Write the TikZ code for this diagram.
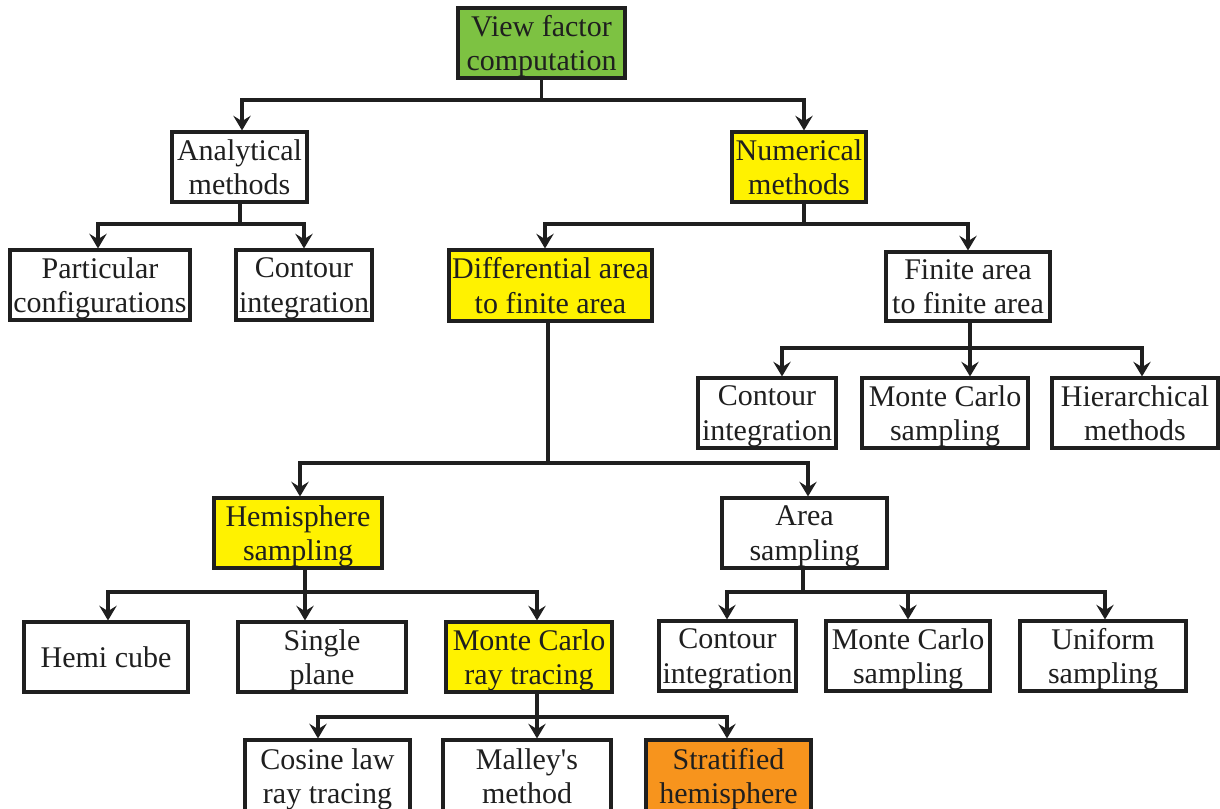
\documentclass[tikz,border=0pt]{standalone}
\usepackage{fontspec}
\setmainfont{Liberation Serif}
\usetikzlibrary{arrows.meta}
\definecolor{rootgreen}{RGB}{125,194,66}
\definecolor{hiyellow}{RGB}{255,242,0}
\definecolor{hiorange}{RGB}{247,148,29}
\begin{document}
\begin{tikzpicture}[x=0.75pt,y=-0.75pt,
  box/.style 2 args={draw=black!88, line width=2.3pt, fill=white, align=center,
    inner sep=0pt, minimum width=#1*0.75pt, minimum height=#2*0.75pt,
    text depth=0pt, font=\fontsize{22.5}{26}\selectfont, text=black!88},
  ln/.style={draw=black!88, line width=2.3pt},
  arr/.style={ln, -{Stealth[length=11pt,width=13pt,inset=4pt]}}]
\useasboundingbox (0,0) rectangle (1220,809);

% tree nodes
\node[box={167}{70}, fill=rootgreen] (root) at (541.5,43) {View factor\\computation};
\node[box={135}{70}] (ana) at (239.5,167) {Analytical\\methods};
\node[box={134}{70}, fill=hiyellow] (num) at (799,167) {Numerical\\methods};
\node[box={180}{70}] (part) at (100,285) {Particular\\configurations};
\node[box={136}{70}] (con1) at (304,285) {Contour\\integration};
\node[box={203}{71}, fill=hiyellow] (diff) at (550.5,285.5) {Differential area\\to finite area};
\node[box={164}{69}] (fin) at (968,286.5) {Finite area\\to finite area};
\node[box={138}{70}] (con2) at (767,413) {Contour\\integration};
\node[box={166}{70}] (mc1) at (945,413) {Monte Carlo\\sampling};
\node[box={166}{70}] (hier) at (1135,413) {Hierarchical\\methods};
\node[box={168}{70}, fill=hiyellow] (hemi) at (298,533) {Hemisphere\\sampling};
\node[box={165}{70}] (area) at (804.5,533) {Area\\sampling};
\node[box={164}{70}] (cube) at (106,657) {Hemi cube};
\node[box={168}{70}] (plane) at (322,657) {Single\\plane};
\node[box={166}{70}, fill=hiyellow] (mcrt) at (529,657) {Monte Carlo\\ray tracing};
\node[box={137}{70}] (con3) at (727.5,656) {Contour\\integration};
\node[box={164}{70}] (mc2) at (908,656) {Monte Carlo\\sampling};
\node[box={166}{70}] (unif) at (1103,656) {Uniform\\sampling};
\node[box={165}{72}] (cos) at (327.5,776) {Cosine law\\ray tracing};
\node[box={168}{72}] (mal) at (527,776) {Malley\textquotesingle s\\method};
\node[box={165}{72}, fill=hiorange] (strat) at (728.5,776) {Stratified\\hemisphere};

% x positions where the arrows drop onto their children
\coordinate (xa) at (242,0);   \coordinate (xn) at (804,0);
\coordinate (xp) at (98,0);    \coordinate (xc) at (304,0);
\coordinate (xd) at (545,0);   \coordinate (xf) at (968,0);
\coordinate (xc2) at (782,0);  \coordinate (xm1) at (970,0);  \coordinate (xh) at (1142,0);
\coordinate (xhe) at (300,0);  \coordinate (xar) at (808,0);
\coordinate (xcu) at (108,0);  \coordinate (xpl) at (305,0);  \coordinate (xmr) at (537,0);
\coordinate (xc3) at (727,0);  \coordinate (xm2) at (908,0);  \coordinate (xu) at (1105,0);
\coordinate (xco) at (318,0);  \coordinate (xma) at (537,0);  \coordinate (xst) at (727,0);

% root
\draw[ln] (root.south) -- (root.south |- 0,100) coordinate (b0);
\draw[arr] (b0) -| (xa |- ana.north);
\draw[arr] (b0) -| (xn |- num.north);
% analytical
\draw[ln] (240,0 |- ana.south) -- (240,224) coordinate (b1);
\draw[arr] (b1) -| (xp |- part.north);
\draw[arr] (b1) -| (xc |- con1.north);
% numerical
\draw[ln] (xn |- num.south) -- (804,224) coordinate (b2);
\draw[arr] (b2) -| (xd |- diff.north);
\draw[arr] (b2) -| (xf |- fin.north);
% finite area
\draw[ln] (970,0 |- fin.south) -- (970,348) coordinate (b3);
\draw[arr] (b3) -| (xc2 |- con2.north);
\draw[arr] (b3) -- (xm1 |- mc1.north);
\draw[arr] (b3) -| (xh |- hier.north);
% differential area
\draw[ln] (548,0 |- diff.south) -- (548,463) coordinate (b4);
\draw[arr] (b4) -| (xhe |- hemi.north);
\draw[arr] (b4) -| (xar |- area.north);
% hemisphere sampling
\draw[ln] (305,0 |- hemi.south) -- (305,592) coordinate (b5);
\draw[arr] (b5) -| (xcu |- cube.north);
\draw[arr] (b5) -- (xpl |- plane.north);
\draw[arr] (b5) -| (xmr |- mcrt.north);
% area sampling
\draw[ln] (803,0 |- area.south) -- (803,592) coordinate (b6);
\draw[arr] (b6) -| (xc3 |- con3.north);
\draw[arr] (b6) -| (xm2 |- mc2.north);
\draw[arr] (b6) -| (xu |- unif.north);
% Monte Carlo ray tracing
\draw[ln] (537,0 |- mcrt.south) -- (537,717) coordinate (b7);
\draw[arr] (b7) -| (xco |- cos.north);
\draw[arr] (b7) -- (xma |- mal.north);
\draw[arr] (b7) -| (xst |- strat.north);
\end{tikzpicture}
\end{document}
